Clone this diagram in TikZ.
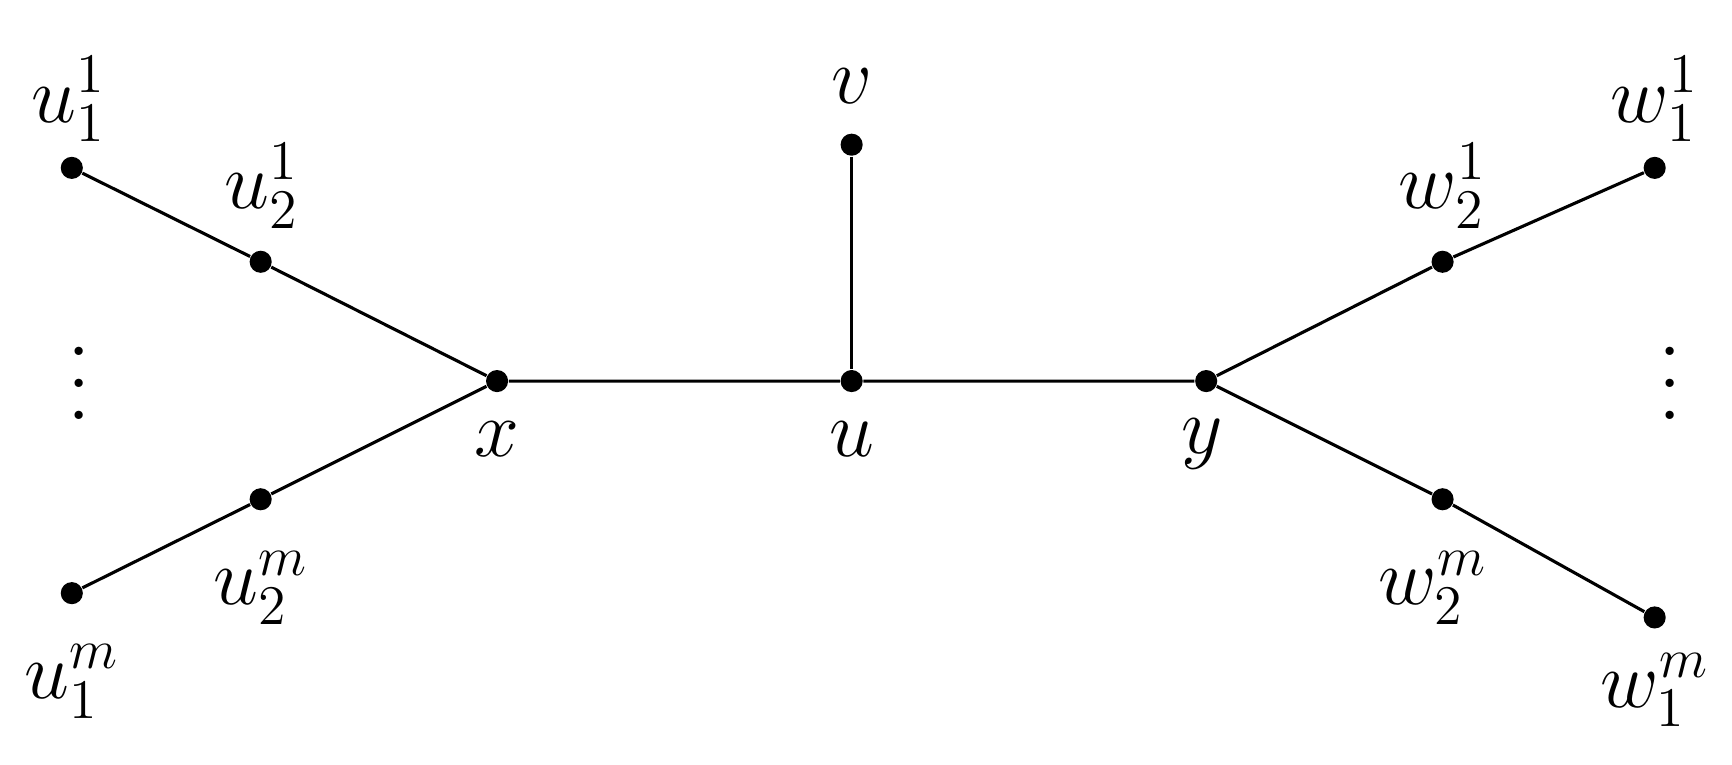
\documentclass[tikz,border=0pt]{standalone}
\begin{document}
\begin{tikzpicture}[x=0.01cm,y=-0.01cm,
  dot/.style={circle,fill=black,inner sep=0pt,minimum size=0.2cm},
  lab/.style={font=\fontsize{21}{25}\selectfont},
  vd/.style={font=\fontsize{26}{8.2}\selectfont,align=center,inner sep=0pt},
  edge/.style={line width=0.8pt}]
\useasboundingbox (0,0) rectangle (1568,692);
\node[dot] (u11) at (65,152) {};
\node[dot] (u21) at (236,237) {};
\node[dot] (x) at (450,345) {};
\node[dot] (u2m) at (236,452) {};
\node[dot] (u1m) at (65,537) {};
\node[dot] (v) at (771,131) {};
\node[dot] (u) at (771,345) {};
\node[dot] (y) at (1092,345) {};
\node[dot] (w21) at (1306,237) {};
\node[dot] (w11) at (1498,152) {};
\node[dot] (w2m) at (1306,452) {};
\node[dot] (w1m) at (1498,559) {};
\draw[edge] (u11)--(u21)--(x)--(u)--(y)--(w21)--(w11);
\draw[edge] (u1m)--(u2m)--(x);
\draw[edge] (y)--(w2m)--(w1m);
\draw[edge] (v)--(u);
\node[lab] (lu11) at (62,90) {$u_1^1$};
\node[lab] (lu21) at (237,168) {$u_2^1$};
\node[lab] (lu2m) at (236,532) {$u_2^m$};
\node[lab] (lu1m) at (65,617) {$u_1^m$};
\node[lab] (lx) at (450,398) {$x$};
\node[lab] (lu) at (771,398) {$u$};
\node[lab] (lv) at (771,78) {$v$};
\node[lab] (ly) at (1088,402) {$y$};
\node[lab] (lw21) at (1306,168) {$w_2^1$};
\node[lab] (lw11) at (1498,90) {$w_1^1$};
\node[lab] (lw2m) at (1297,532) {$w_2^m$};
\node[lab] (lw1m) at (1498,625) {$w_1^m$};
\node[vd] (dl) at (72,347) {.\\.\\.};
\node[vd] (dr) at (1512,347) {.\\.\\.};
\end{tikzpicture}
\end{document}
